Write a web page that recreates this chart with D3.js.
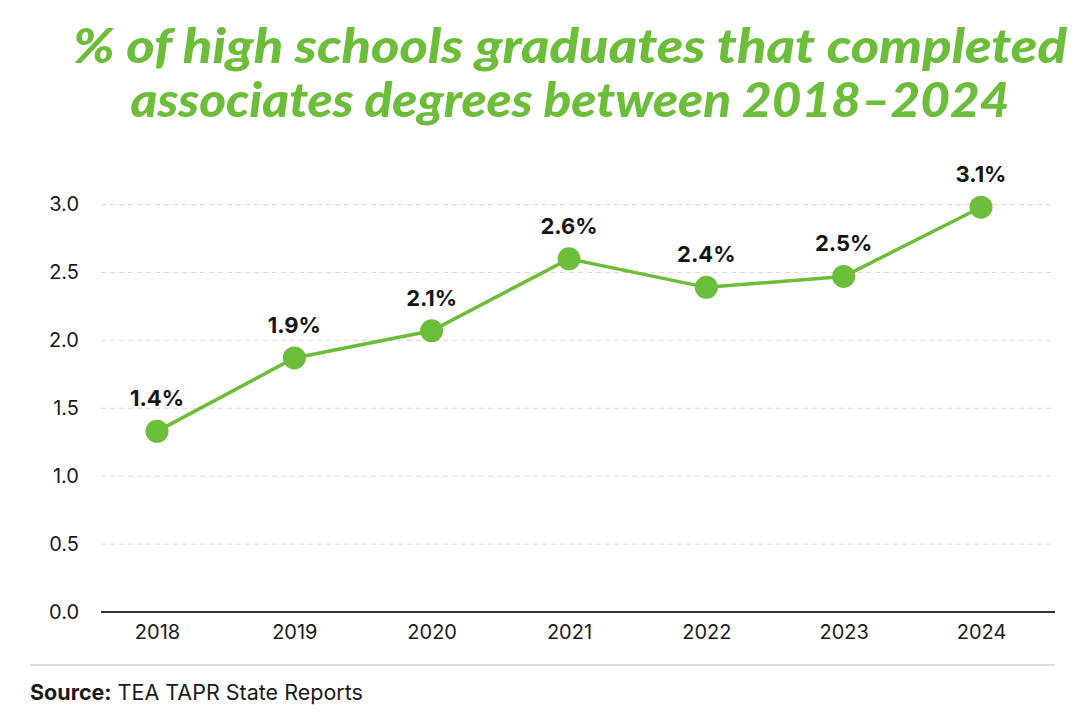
<!DOCTYPE html>
<html>
<head>
<meta charset="utf-8">
<script src="https://cdn.jsdelivr.net/npm/d3@7"></script>
<style>
  body { margin: 0; background: #fff; }
  svg { display: block; }
</style>
</head>
<body>
<div id="chart"></div>
<script>
// data
var years = ["2018", "2019", "2020", "2021", "2022", "2023", "2024"];
var values = [1.33, 1.87, 2.07, 2.6, 2.39, 2.47, 2.98];
var labels = ["1.4%", "1.9%", "2.1%", "2.6%", "2.4%", "2.5%", "3.1%"];
var yTicks = [0, 0.5, 1.0, 1.5, 2.0, 2.5, 3.0];
var titleLines = ["% of high schools graduates that completed", "associates degrees between 2018\u20132024"];

var width = 1089, height = 726;
var green = "#6cbd3a";
var titleWidths = [994, 879];

var svg = d3.select("#chart").append("svg")
    .attr("width", width)
    .attr("height", height);

// titel
svg.selectAll(".title")
    .data(titleLines)
    .enter()
    .append("text")
    .attr("class", "title")
    .attr("x", 570)
    .attr("y", function(d, i) { return 63 + i * 54; })
    .attr("text-anchor", "middle")
    .attr("textLength", function(d, i) { return titleWidths[i]; })
    .attr("lengthAdjust", "spacingAndGlyphs")
    .style("font-family", "Lato, sans-serif")
    .style("font-weight", "900")
    .style("font-style", "italic")
    .style("font-size", "48px")
    .style("fill", green)
    .text(function(d) { return d; });

var x = d3.scalePoint()
    .domain(years)
    .range([157, 981]);

var y = d3.scaleLinear()
    .domain([0, 3])
    .range([612, 204.5]);

// gridlines
svg.append("g")
    .selectAll("line")
    .data(yTicks.filter(function(d) { return d > 0; }))
    .enter()
    .append("line")
    .attr("x1", 101)
    .attr("x2", 1055)
    .attr("y1", function(d) { return y(d); })
    .attr("y2", function(d) { return y(d); })
    .attr("stroke", "#d9d9d9")
    .attr("stroke-width", 1)
    .attr("stroke-dasharray", "5,4");

// y axis labels
var yAxis = svg.append("g")
    .attr("transform", "translate(79,0)")
    .call(d3.axisLeft(y).tickValues(yTicks).tickFormat(d3.format(".1f")).tickSize(0).tickPadding(0));
yAxis.select(".domain").remove();
yAxis.selectAll("text")
    .style("font-family", "Inter, sans-serif")
    .style("font-size", "20px")
    .style("fill", "#1a1a1a");

// x axis
var xAxis = svg.append("g")
    .attr("transform", "translate(0," + y(0) + ")")
    .call(d3.axisBottom(x).tickSize(0).tickPadding(13));
xAxis.select(".domain").remove();
xAxis.selectAll("text")
    .style("font-family", "Inter, sans-serif")
    .style("font-size", "20px")
    .style("fill", "#1a1a1a");

svg.append("line")
    .attr("x1", 101)
    .attr("x2", 1055)
    .attr("y1", y(0))
    .attr("y2", y(0))
    .attr("stroke", "#333")
    .attr("stroke-width", 2);

// line
var line = d3.line()
    .x(function(d, i) { return x(years[i]); })
    .y(function(d) { return y(d); });

svg.append("path")
    .datum(values)
    .attr("d", line)
    .attr("fill", "none")
    .attr("stroke", green)
    .attr("stroke-width", 3.5);

svg.selectAll(".dot")
    .data(values)
    .enter()
    .append("circle")
    .attr("class", "dot")
    .attr("cx", function(d, i) { return x(years[i]); })
    .attr("cy", function(d) { return y(d); })
    .attr("r", 11.5)
    .attr("fill", green);

svg.selectAll(".lbl")
    .data(values)
    .enter()
    .append("text")
    .attr("class", "lbl")
    .attr("x", function(d, i) { return x(years[i]); })
    .attr("y", function(d) { return y(d) - 25; })
    .attr("text-anchor", "middle")
    .style("font-family", "Inter, sans-serif")
    .style("font-weight", "700")
    .style("font-size", "22px")
    .style("fill", "#151515")
    .text(function(d, i) { return labels[i]; });

// footer
svg.append("line")
    .attr("x1", 30)
    .attr("x2", 1055)
    .attr("y1", 665)
    .attr("y2", 665)
    .attr("stroke", "#cfcfcf")
    .attr("stroke-width", 1.5);

var src = svg.append("text")
    .attr("x", 30)
    .attr("y", 700)
    .style("font-family", "Inter, sans-serif")
    .style("font-size", "21.5px")
    .style("fill", "#1a1a1a");
src.append("tspan").style("font-weight", "700").text("Source:");
src.append("tspan").text(" TEA TAPR State Reports");
</script>
</body>
</html>
